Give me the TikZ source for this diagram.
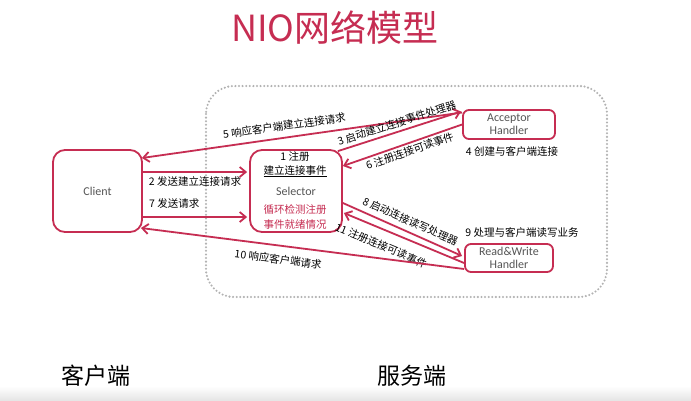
\documentclass[tikz,border=0pt]{standalone}
\usepackage{fontspec}
\setmainfont{Noto Sans CJK SC}
\newfontfamily\latinf{Carlito}
\usetikzlibrary{arrows.meta,calc}
\definecolor{nio}{RGB}{198,45,82}
\definecolor{boxtext}{RGB}{85,85,85}
\begin{document}
\begin{tikzpicture}[x=1pt,y=-1pt,
  box/.style={draw=nio, line width=1.8pt, fill=white, rounded corners=12pt,
    font=\latinf\fontsize{12}{13}\selectfont, text=boxtext, align=center},
  hbox/.style={box, rounded corners=6pt, inner sep=1pt},
  conn/.style={draw=nio, line width=1.8pt, -{Straight Barb[length=6pt,width=10pt]}},
  lbl/.style={font=\fontsize{10.5}{12}\selectfont, text=black, inner sep=1pt},
  sellbl/.style={font=\fontsize{10.5}{12}\selectfont, text=black, inner sep=1pt},
  side/.style={font=\fontsize{23}{26}\selectfont, text=black}]
\useasboundingbox (0,0) rectangle (691,400);
\fill[white] (0,0) rectangle (691,400);
\shade[top color=white, bottom color=black!10] (0,386) rectangle (691,400);
% dotted server frame
\draw[gray!60, line width=2.3pt, dash pattern=on 0pt off 3.6pt, line cap=round, rounded corners=28pt]
  (206,86) rectangle (607,297);
% title
\node[text=nio, font=\fontsize{36}{40}\selectfont] (title) at (335,28) {NIO网络模型};
% boxes
\node[box, minimum width=89pt, minimum height=82pt] (client) at (97.5,191) {Client};
\node[box, minimum width=92pt, minimum height=82pt] (sel) at (296,191) {Selector};
\node[hbox, minimum width=92pt, minimum height=29pt] (acc) at (509,124.5) {Acceptor\\Handler};
\node[hbox, minimum width=88pt, minimum height=28pt] (rw) at (509,258) {Read\&Write\\Handler};
% selector texts
\node[sellbl] (s1) at (295,157) {1 注册};
\node[sellbl] (s2) at (295,171) {\underline{建立连接事件}};
\node[sellbl, text=nio] (s3) at (295,210) {循环检测注册};
\node[sellbl, text=nio] (s4) at (295,225) {事件就绪情况};
% connectors
\draw[conn] ($(acc.west)+(0,-12)$) -- node[lbl, sloped, above=5pt, pos=0.55] (l5) {5 响应客户端建立连接请求} ($(client.east)+(-1,-33)$);
\draw[conn] ($(sel.north east)+(-5,2)$) -- node[lbl, sloped, above=2pt, pos=0.5] (l3) {3 启动建立连接事件处理器} ($(acc.west)+(-1,-13)$);
\draw[conn] (acc.west) -- node[lbl, sloped, below=1pt, pos=0.46] (l6) {6 注册连接可读事件} ($(sel.east)+(0,-25)$);
\draw[conn] ($(client.east)+(0,-19)$) -- node[lbl, below=3pt] (l2) {2 发送建立连接请求} ($(sel.west)+(-2,-19)$);
\draw[conn] ($(client.east)+(0,26)$) -- ($(sel.west)+(-2,26)$);
\node[lbl, anchor=west] (l7) at (148,203) {7 发送请求};
\draw[conn] ($(sel.east)+(0,12)$) -- node[lbl, sloped, above=4pt, pos=0.53] (l8) {8 启动连接读写处理器} ($(rw.west)+(-2,-2)$);
\draw[conn] ($(rw.west)+(0,5)$) -- node[lbl, sloped, below=9pt, pos=0.64] (l11) {11 注册连接可读事件} ($(sel.east)+(1,22)$);
\draw[conn] ($(rw.west)+(0,11)$) -- node[lbl, sloped, below=7pt, pos=0.57] (l10) {10 响应客户端请求} ($(client.east)+(-2,37)$);
% side labels
\node[lbl] (l4) at (512,151) {4 创建与客户端连接};
\node[lbl] (l9) at (522,232) {9 处理与客户端读写业务};
\node[side] (c1) at (96,376) {客户端};
\node[side] (c2) at (412,376) {服务端};
\end{tikzpicture}
\end{document}
